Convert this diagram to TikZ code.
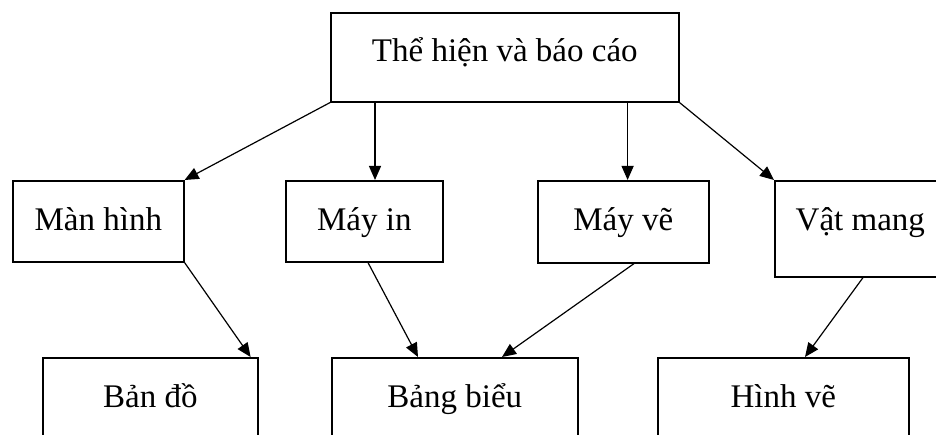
\documentclass[tikz,border=0pt]{standalone}
\usepackage{fontspec}
\setmainfont{Liberation Serif}
\usetikzlibrary{arrows.meta,calc}

\tikzset{
  % rectangular box, top-left anchored; #1 = width, #2 = depth below the baseline
  bx/.style 2 args={draw, line width=1.6pt, inner sep=0pt, anchor=north west,
    minimum width=#1, text height=50pt, text depth=#2,
    font=\fontsize{33}{36}\selectfont},
  arr/.style={-{Triangle[length=14pt,width=12pt]}, line width=1.2pt},
}

\begin{document}
\begin{tikzpicture}[x=1pt,y=-1pt]
  \clip (0,0) rectangle (936,435);

  % top level
  \node[bx={348pt}{40pt}, text height=49pt] (top) at (330,12) {Thể hiện và báo cáo};

  % output devices
  \node[bx={171pt}{31pt}] (manhinh) at (12,180)  {Màn hình};
  \node[bx={157pt}{31pt}] (mayin)   at (285,180) {Máy in};
  \node[bx={171pt}{32pt}] (mayve)   at (537,180) {Máy vẽ};
  \node[bx={171pt}{46pt}] (vatmang) at (774,180) {Vật mang};

  % products
  \node[bx={215pt}{70pt}] (bando)    at (42,357)  {Bản đồ};
  \node[bx={246pt}{70pt}] (bangbieu) at (331,357) {Bảng biểu};
  \node[bx={251pt}{70pt}] (hinhve)   at (657,357) {Hình vẽ};

  % connectors from the top box
  \coordinate (t1) at ($(top.south west)+(45,0)$);
  \coordinate (t2) at ($(top.south east)+(-52,0)$);
  \draw[arr] (top.south west) -- (manhinh.north east);
  \draw[arr] (t1) -- (t1 |- mayin.north);
  \draw[arr] (t2) -- (t2 |- mayve.north);
  \draw[arr] (top.south east) -- (vatmang.north west);

  % connectors to the products
  \draw[arr] (manhinh.south east) -- ($(bando.north east)+(-8,0)$);
  \draw[arr] ($(mayin.south west)+(83,0)$) -- ($(bangbieu.north west)+(87,0)$);
  \draw[arr] ($(mayve.south west)+(97,0)$) -- ($(bangbieu.north west)+(171,0)$);
  \draw[arr] ($(vatmang.south west)+(89,0)$) -- ($(hinhve.north west)+(148,0)$);
\end{tikzpicture}
\end{document}
